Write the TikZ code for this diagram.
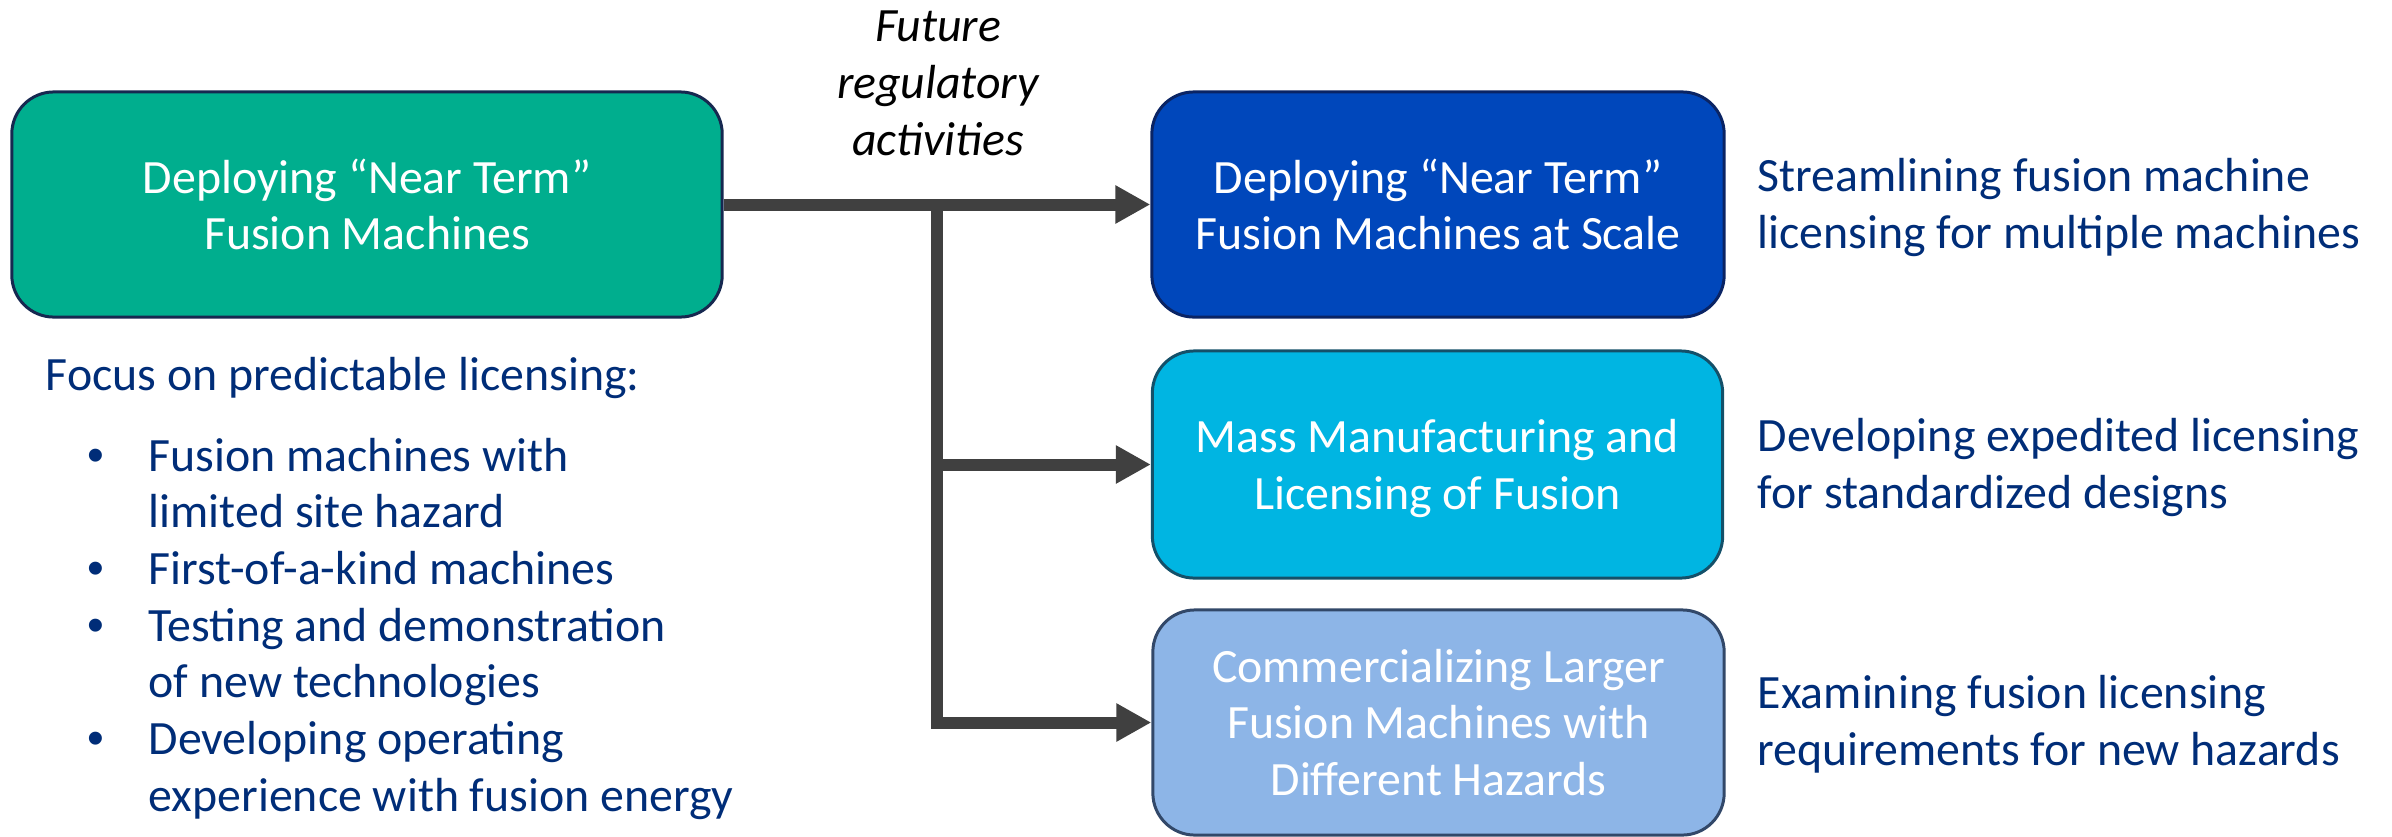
\documentclass[tikz,border=0pt]{standalone}
\usepackage{fontspec}
\setmainfont{Carlito}
\newfontfamily\bulletfont{Liberation Sans}
\usetikzlibrary{arrows.meta}

\definecolor{fgreen}{RGB}{0,174,142}
\definecolor{fblue}{RGB}{0,71,187}
\definecolor{fcyan}{RGB}{0,181,226}
\definecolor{flight}{RGB}{141,181,231}
\definecolor{edgegreen}{RGB}{22,40,80}
\definecolor{edgeblue}{RGB}{10,36,100}
\definecolor{edgecyan}{RGB}{20,80,105}
\definecolor{edgelight}{RGB}{50,72,105}
\definecolor{navytext}{RGB}{0,45,120}
\definecolor{arrowgray}{RGB}{64,64,64}

% bullet hanging at the left edge, text indented after it
\newcommand{\bulletrow}[1]{\makebox[0.53cm][l]{\makebox[0pt]{\bulletfont •}}#1}
\newcommand{\controw}[1]{\hspace*{0.53cm}#1}
% a line whose descenders do not count for centring
\newcommand{\nodepth}[1]{\raisebox{0pt}[\height][0pt]{#1}}

\begin{document}
\begin{tikzpicture}[x=0.01cm, y=-0.01cm,
  every node/.style={inner sep=0pt, font=\fontsize{13.6pt}{16.1pt}\selectfont},
  stage/.style={line width=0.85pt, rounded corners=0.42cm, align=center,
                text=white, minimum height=2.25cm},
  conn/.style={draw=arrowgray, line width=0.12cm,
               -{Triangle[length=0.35cm, width=0.36cm]}},
  note/.style={text=navytext, align=left, anchor=base west},
  heading/.style={text=black, align=center, anchor=base,
                  font=\fontsize{13.6pt}{16.1pt}\selectfont\itshape}]

\useasboundingbox (0,0) rectangle (2392,836);

% stage boxes
\node[stage, draw=edgegreen, fill=fgreen, minimum width=7.10cm] (src) at (367,204.5)
  {Deploying “Near Term”\\Fusion Machines};
\node[stage, draw=edgeblue, fill=fblue, minimum width=5.72cm] (scale) at (1438,204.5)
  {Deploying “Near Term”\\Fusion Machines at Scale};
\node[stage, draw=edgecyan, fill=fcyan, minimum width=5.70cm, minimum height=2.27cm] (mass) at (1437.5,464.5)
  {Mass Manufacturing and\\\nodepth{Licensing of Fusion}};
\node[stage, draw=edgelight, fill=flight, minimum width=5.71cm] (large) at (1438.5,722.5)
  {Commercializing Larger\\Fusion Machines with\\Different Hazards};

% heading over the branch
\node[heading] (future) at (938,155) {Future\\regulatory\\activities};

% connectors
\coordinate (j) at (937,204.5);
\draw[conn] (src.east) -- (scale.west);
\draw[conn] (j) |- (large.west);
\draw[conn] (j |- mass.west) -- (mass.west);

% notes beside the boxes
\node[note] (n1) at (1757,248) {Streamlining fusion machine\\licensing for multiple machines};
\node[note] (n2) at (1757,508) {Developing expedited licensing\\for standardized designs};
\node[note] (n3) at (1757,765) {Examining fusion licensing\\requirements for new hazards};

% focus list under the first box
\node[note] (focus) at (45,390) {Focus on predictable licensing:};
\node[note] (items) at (95,811)
  {\bulletrow{Fusion machines with}\\
   \controw{limited site hazard}\\
   \bulletrow{First-of-a-kind machines}\\
   \bulletrow{Testing and demonstration}\\
   \controw{of new technologies}\\
   \bulletrow{Developing operating}\\
   \controw{experience with fusion energy}};
\end{tikzpicture}
\end{document}
